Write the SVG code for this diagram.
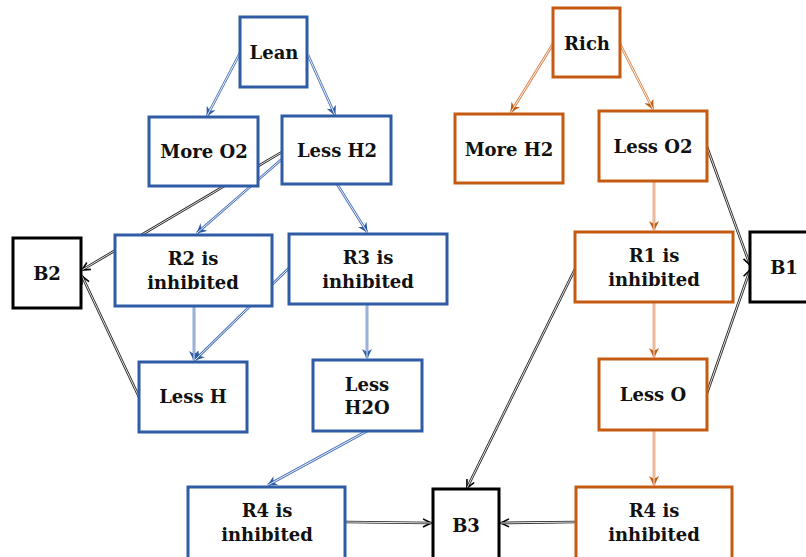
<svg xmlns="http://www.w3.org/2000/svg" xmlns:xlink="http://www.w3.org/1999/xlink" width="806" height="557" viewBox="0 0 806 557">
<style>
  text { font-family: "DejaVu Serif", "Liberation Serif", serif; font-weight: bold; font-size: 18px; fill: #111; text-anchor: middle; }
  .box { fill: #fff; stroke-width: 3; }
  .blue { stroke: #2f5ca5; }
  .orange { stroke: #c55a11; }
  .black { stroke: #000; }
  .c { fill: none; }
  .cb { stroke: #4a72b8; stroke-width: 2.6; }
  .co { stroke: #d9824a; stroke-width: 2.6; }
  .ck { stroke: #222; stroke-width: 2.6; }
  .inner { stroke: #fff; stroke-width: 0.9; marker-end: none; }
</style>
<defs>
  <marker id="ab" viewBox="0 0 10 10" refX="9" refY="5" markerWidth="10" markerHeight="10" markerUnits="userSpaceOnUse" orient="auto">
    <path d="M0,0 L10,5 L0,10 L3,5 Z" fill="#2f5ca5"/>
  </marker>
  <marker id="ao" viewBox="0 0 10 10" refX="9" refY="5" markerWidth="10" markerHeight="10" markerUnits="userSpaceOnUse" orient="auto">
    <path d="M0,0 L10,5 L0,10 L3,5 Z" fill="#c55a11"/>
  </marker>
  <marker id="ak" viewBox="0 0 10 10" refX="9" refY="5" markerWidth="10" markerHeight="10" markerUnits="userSpaceOnUse" orient="auto">
    <path d="M1,1 L9,5 L1,9" fill="none" stroke="#000" stroke-width="1.6"/>
  </marker>
  <path id="p1" d="M240,53 L207,116"/>
  <path id="p2" d="M308,55 L335,115"/>
  <path id="p3" d="M282,159 L197,233"/>
  <path id="p4" d="M337,184 L367,232"/>
  <path id="p5" d="M194,306 L194,360"/>
  <path id="p6" d="M289,268 L195,360"/>
  <path id="p7" d="M367,304 L367,358"/>
  <path id="p8" d="M367,431 L268,485"/>
  <path id="q1" d="M553,44 L511,112"/>
  <path id="q2" d="M620,44 L653,109"/>
  <path id="q3" d="M654,182 L654,230"/>
  <path id="q4" d="M654,302 L654,357"/>
  <path id="q5" d="M654,430 L654,485"/>
  <path id="k1" d="M282,152 L82,270"/>
  <path id="k2" d="M139,397 L82,276"/>
  <path id="k3" d="M707,147 L750,265"/>
  <path id="k4" d="M707,393 L750,270"/>
  <path id="k5" d="M576,267 L467,488"/>
  <path id="k6" d="M346,522 L431,523"/>
  <path id="k7" d="M576,522 L501,523"/>
</defs>

<g id="connectors" class="c">
  <g class="cb" marker-end="url(#ab)">
    <use xlink:href="#p1"/><use xlink:href="#p2"/><use xlink:href="#p3"/><use xlink:href="#p4"/>
    <use xlink:href="#p5"/><use xlink:href="#p6"/><use xlink:href="#p7"/><use xlink:href="#p8"/>
  </g>
  <g class="co" marker-end="url(#ao)">
    <use xlink:href="#q1"/><use xlink:href="#q2"/><use xlink:href="#q3"/><use xlink:href="#q4"/><use xlink:href="#q5"/>
  </g>
  <g class="ck" marker-end="url(#ak)">
    <use xlink:href="#k1"/><use xlink:href="#k2"/><use xlink:href="#k3"/><use xlink:href="#k4"/>
    <use xlink:href="#k5"/><use xlink:href="#k6"/><use xlink:href="#k7"/>
  </g>
  <g class="inner">
    <use xlink:href="#p1"/><use xlink:href="#p2"/><use xlink:href="#p3"/><use xlink:href="#p4"/>
    <use xlink:href="#p5"/><use xlink:href="#p6"/><use xlink:href="#p7"/><use xlink:href="#p8"/>
    <use xlink:href="#q1"/><use xlink:href="#q2"/><use xlink:href="#q3"/><use xlink:href="#q4"/><use xlink:href="#q5"/>
    <use xlink:href="#k1"/><use xlink:href="#k2"/><use xlink:href="#k3"/><use xlink:href="#k4"/>
    <use xlink:href="#k5"/><use xlink:href="#k6"/><use xlink:href="#k7"/>
  </g>
</g>

<g id="lean"><rect class="box blue" x="240" y="17" width="67" height="70"/><text x="274" y="59">Lean</text></g>
<g id="more-o2"><rect class="box blue" x="149" y="117" width="109" height="69"/><text x="204" y="158">More O2</text></g>
<g id="less-h2"><rect class="box blue" x="282" y="116" width="109" height="68"/><text x="337" y="157">Less H2</text></g>
<g id="r2"><rect class="box blue" x="115" y="235" width="157" height="71"/><text x="193" y="265">R2 is</text><text x="193" y="289">inhibited</text></g>
<g id="r3"><rect class="box blue" x="289" y="234" width="158" height="70"/><text x="368" y="264">R3 is</text><text x="368" y="288">inhibited</text></g>
<g id="less-h"><rect class="box blue" x="139" y="362" width="108" height="70"/><text x="193" y="403">Less H</text></g>
<g id="less-h2o"><rect class="box blue" x="313" y="360" width="109" height="71"/><text x="367" y="391">Less</text><text x="367" y="414">H2O</text></g>
<g id="r4-left"><rect class="box blue" x="188" y="487" width="157" height="80"/><text x="267" y="517">R4 is</text><text x="267" y="541">inhibited</text></g>

<g id="rich"><rect class="box orange" x="553" y="8" width="67" height="69"/><text x="587" y="50">Rich</text></g>
<g id="more-h2"><rect class="box orange" x="455" y="114" width="108" height="69"/><text x="509" y="156">More H2</text></g>
<g id="less-o2"><rect class="box orange" x="599" y="111" width="108" height="70"/><text x="653" y="153">Less O2</text></g>
<g id="r1"><rect class="box orange" x="575" y="232" width="158" height="70"/><text x="654" y="262">R1 is</text><text x="654" y="286">inhibited</text></g>
<g id="less-o"><rect class="box orange" x="599" y="359" width="108" height="71"/><text x="653" y="401">Less O</text></g>
<g id="r4-right"><rect class="box orange" x="576" y="487" width="156" height="80"/><text x="654" y="517">R4 is</text><text x="654" y="541">inhibited</text></g>

<g id="b2"><rect class="box black" x="13" y="238" width="68" height="70"/><text x="47" y="280">B2</text></g>
<g id="b1"><rect class="box black" x="750" y="232" width="70" height="70"/><text x="784" y="274">B1</text></g>
<g id="b3"><rect class="box black" x="433" y="489" width="66" height="80"/><text x="466" y="532">B3</text></g>
</svg>
